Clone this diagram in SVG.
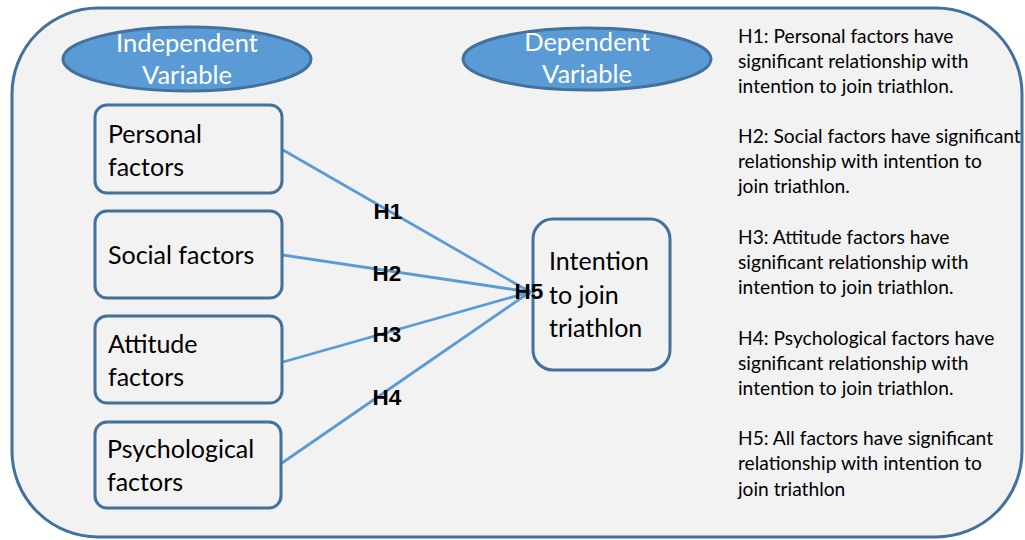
<svg xmlns="http://www.w3.org/2000/svg" width="1025" height="540" viewBox="0 0 1025 540">
<style>
.frame{fill:#f2f2f2;stroke:#41719c;stroke-width:3}
.box{fill:#f2f2f2;stroke:#41719c;stroke-width:3}
.ell{fill:#5b9bd5;stroke:#41719c;stroke-width:3}
.etxt{font-family:Lato,"Liberation Sans",sans-serif;font-size:25.5px;fill:#ffffff;text-anchor:middle}
.ntxt{font-family:Lato,"Liberation Sans",sans-serif;font-size:25px;fill:#000000}
.conn{stroke:#5b9bd5;stroke-width:2.8;fill:none}
.hl{font-family:"Liberation Sans",sans-serif;font-size:22.5px;font-weight:bold;fill:#000000;text-anchor:middle}
.side{font-family:Lato,"Liberation Sans",sans-serif;font-size:19.2px;fill:#000000}
</style>
<defs>
<marker id="arr" markerWidth="8" markerHeight="8" refX="7" refY="4" orient="auto" markerUnits="userSpaceOnUse">
<path d="M0,0 L8,4 L0,8" fill="none" stroke="#5b9bd5" stroke-width="1.5"/>
</marker>
</defs>
<rect class="frame" x="12" y="8" width="1010" height="529" rx="86" ry="86"/>
<g id="independent-label">
<ellipse class="ell" cx="187" cy="59" rx="124" ry="32"/>
<text class="etxt" x="187" y="52">Independent</text>
<text class="etxt" x="187" y="84">Variable</text>
</g>
<g id="dependent-label">
<ellipse class="ell" cx="587" cy="59" rx="124" ry="31"/>
<text class="etxt" x="587" y="51">Dependent</text>
<text class="etxt" x="587" y="83">Variable</text>
</g>
<g id="connectors">
<line class="conn" x1="283" y1="150" x2="530" y2="292" marker-end="url(#arr)"/>
<line class="conn" x1="283" y1="255" x2="530" y2="292" marker-end="url(#arr)"/>
<line class="conn" x1="283" y1="362" x2="530" y2="292" marker-end="url(#arr)"/>
<line class="conn" x1="282" y1="463" x2="530" y2="292" marker-end="url(#arr)"/>
</g>
<g id="personal">
<rect class="box" x="95" y="105" width="187" height="88" rx="12"/>
<text class="ntxt" x="108" y="143">Personal</text>
<text class="ntxt" x="108" y="176">factors</text>
</g>
<g id="social">
<rect class="box" x="95" y="211" width="187" height="87" rx="12"/>
<text class="ntxt" x="108" y="264">Social factors</text>
</g>
<g id="attitude">
<rect class="box" x="95" y="316" width="187" height="87" rx="12"/>
<text class="ntxt" x="108" y="353">Attitude</text>
<text class="ntxt" x="108" y="386">factors</text>
</g>
<g id="psychological">
<rect class="box" x="95" y="422" width="186" height="86" rx="12"/>
<text class="ntxt" x="107" y="458">Psychological</text>
<text class="ntxt" x="107" y="491">factors</text>
</g>
<g id="intention">
<rect class="box" x="533" y="219" width="137" height="151" rx="20"/>
<text class="ntxt" x="549" y="270">Intention</text>
<text class="ntxt" x="549" y="304">to join</text>
<text class="ntxt" x="549" y="337">triathlon</text>
</g>
<g id="connector-labels">
<text class="hl" x="388" y="219">H1</text>
<text class="hl" x="387" y="281">H2</text>
<text class="hl" x="387" y="342">H3</text>
<text class="hl" x="387" y="405">H4</text>
<text class="hl" x="529" y="299">H5</text>
</g>
<g id="hypotheses">
<text class="side" x="738" y="43">H1: Personal factors have</text>
<text class="side" x="738" y="68">significant relationship with</text>
<text class="side" x="738" y="93">intention to join triathlon.</text>
<text class="side" x="738" y="143">H2: Social factors have significant</text>
<text class="side" x="738" y="168">relationship with intention to</text>
<text class="side" x="738" y="193">join triathlon.</text>
<text class="side" x="738" y="244">H3: Attitude factors have</text>
<text class="side" x="738" y="269">significant relationship with</text>
<text class="side" x="738" y="294">intention to join triathlon.</text>
<text class="side" x="738" y="345">H4: Psychological factors have</text>
<text class="side" x="738" y="370">significant relationship with</text>
<text class="side" x="738" y="395">intention to join triathlon.</text>
<text class="side" x="738" y="445">H5: All factors have significant</text>
<text class="side" x="738" y="470">relationship with intention to</text>
<text class="side" x="738" y="496">join triathlon</text>
</g>
</svg>
